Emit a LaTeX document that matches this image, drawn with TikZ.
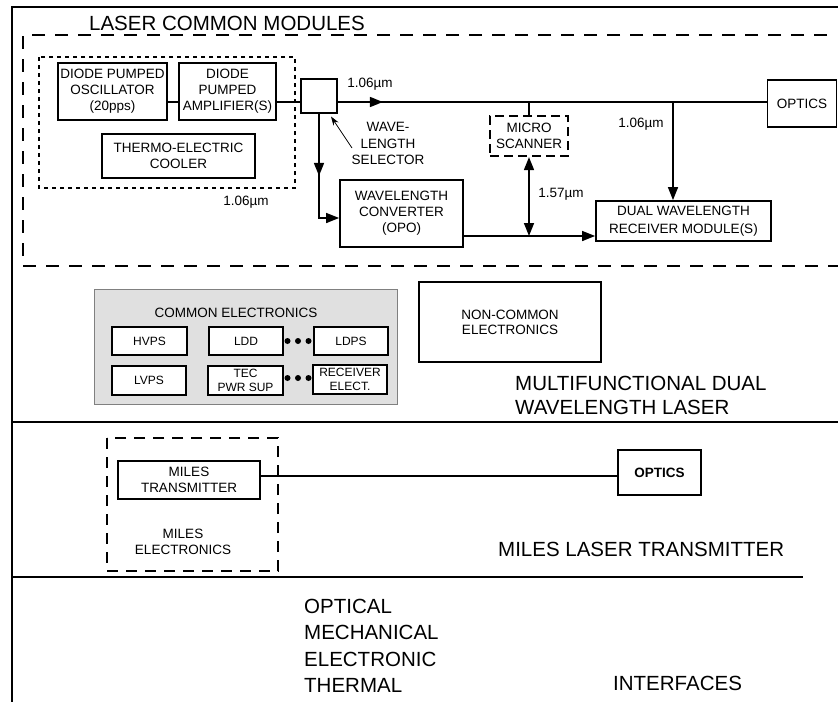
\documentclass[tikz,border=0pt]{standalone}
\usepackage{fontspec}
\setmainfont{Liberation Sans}
\usetikzlibrary{arrows.meta}
\newcommand\fsmall{\fontsize{13.5}{16}\selectfont}
\newcommand\fcell{\fontsize{12}{13.5}\selectfont}
\newcommand\fbig{\fontsize{20.5}{26}\selectfont}
\begin{document}
\begin{tikzpicture}[x=1pt,y=-1pt,
  box/.style={draw, line width=1.8pt, inner sep=0pt, align=center, font=\fsmall},
  cell/.style={draw, fill=white, line width=1.8pt, inner sep=0pt, align=center, font=\fcell},
  lbl/.style={inner sep=0pt, font=\fsmall, align=center},
  big/.style={inner sep=0pt, font=\fbig, align=left},
  conn/.style={line width=1.5pt},
  tip/.style={-{Triangle[length=13pt,width=10pt]}},
  dtip/.style={{Triangle[length=13pt,width=10pt]}-{Triangle[length=13pt,width=10pt]}},
  frame/.style={line width=2.5pt},
  bigdash/.style={line width=2pt, dash pattern=on 13pt off 10pt},
  finedash/.style={line width=2pt, dash pattern=on 4pt off 4pt},
  meddash/.style={line width=2.2pt, dash pattern=on 9pt off 5pt},
  milesdash/.style={line width=1.5pt, dash pattern=on 11pt off 8pt}]
\useasboundingbox (0,0) rectangle (838,702);

% frame
\draw[frame] (838,7) -- (12,7) -- (12,702);
\draw[frame] (12,422) -- (838,422);
\draw[frame] (12,577) -- (803,577);

\node[big, anchor=center] (title) at (227,23) {LASER COMMON MODULES};

% dashed laser module region
\draw[bigdash] (827,35) -- (23,35) -- (23,266) -- (838,266);
% dotted oscillator group
\draw[finedash] (39,57) rectangle (295,188);

\node[box, minimum width=109, minimum height=57] (osc) at (112.5,91.5) {DIODE PUMPED\\OSCILLATOR\\(20pps)};
\node[box, minimum width=97, minimum height=57] (amp) at (227.5,91.5) {DIODE\\PUMPED\\AMPLIFIER(S)};
\node[box, minimum width=153, minimum height=44] (tec) at (178.5,156) {THERMO-ELECTRIC\\COOLER};
\node[box, minimum width=36, minimum height=34] (sel) at (319,96) {};
\node[box, minimum width=69, minimum height=47] (opt1) at (802,103.5) {OPTICS};
\node[box, meddash, minimum width=78, minimum height=40] (ms) at (529,136) {MICRO\\SCANNER};
\node[box, minimum width=123, minimum height=67] (conv) at (401.5,213.5) {WAVELENGTH\\CONVERTER\\(OPO)};
\node[box, minimum width=175, minimum height=40, font=\fontsize{13.5}{17.5}\selectfont] (recv) at (683.5,221) {DUAL WAVELENGTH\\RECEIVER MODULE(S)};

\coordinate (ly) at (0,102);
\coordinate (cy) at (0,218);
\coordinate (oy) at (0,236);
\coordinate (rx) at (673,0);

\draw[conn] (osc.east |- ly) -- (amp.west |- ly);
\draw[conn] (amp.east |- ly) -- (sel.west |- ly);
\draw[conn] (sel.east |- ly) -- (opt1.west |- ly);
\draw[conn, tip] (sel.east |- ly) -- ++(45,0);
\draw[conn, tip] (sel.south) |- (conv.west |- cy);
\draw[conn, tip] (sel.south) -- ++(0,62);
\draw[conn] (ms.north |- ly) -- (ms.north);
\draw[conn, dtip] (ms.south) -- (ms.south |- oy);
\draw[conn, tip] (conv.east |- oy) -- (recv.west |- oy);
\draw[conn, tip] (rx |- ly) -- (rx |- recv.north);

\node[lbl] (l106a) at (370,84) {1.06µm};
\node[lbl] (l106b) at (246,202) {1.06µm};
\node[lbl] (l106c) at (641,124) {1.06µm};
\node[lbl] (l157) at (561,194) {1.57µm};
\node[lbl, font=\fontsize{13.5}{16.5}\selectfont] (sellbl) at (388,143.5) {WAVE-\\LENGTH\\SELECTOR};
\coordinate (sa) at (352,148);
\coordinate (sb) at (331,116.5);
\draw[line width=0.8pt, -{Stealth[length=9pt,width=6pt]}] (sa) -- (sb);

% electronics
\node[draw=gray, fill=black!12, line width=1pt, minimum width=303, minimum height=115, inner sep=0pt] (ce) at (245.5,346.5) {};
\node[lbl] (cetitle) at (236,313) {COMMON ELECTRONICS};
\node[cell, minimum width=75, minimum height=28] (hvps) at (149.5,341) {HVPS};
\node[cell, minimum width=74, minimum height=28] (ldd) at (246,341) {\raisebox{-3pt}{LDD}};
\node[cell, minimum width=74, minimum height=28] (ldps) at (351,341) {LDPS};
\node[cell, minimum width=74, minimum height=29] (lvps) at (149,380.5) {LVPS};
\node[cell, minimum width=75, minimum height=29] (tecp) at (245.5,380.5) {TEC\\PWR SUP};
\node[cell, minimum width=74, minimum height=29] (rcve) at (350,379.5) {RECEIVER\\ELECT.};
\foreach \xx in {287.5,298,308.5} {
  \fill (\xx,341) circle (3);
  \fill (\xx,378) circle (3);
}

\node[box, minimum width=182, minimum height=80, font=\fontsize{13.5}{15}\selectfont] (nce) at (510,322) {NON-COMMON\\ELECTRONICS};
\node[big, anchor=west] (mfl) at (515,383) {MULTIFUNCTIONAL DUAL};
\node[big, anchor=west] (mfl2) at (515,407) {WAVELENGTH LASER};

% MILES
\draw[milesdash] (107,438) rectangle (278,571);
\node[box, minimum width=142, minimum height=38] (mt) at (189,480) {MILES\\TRANSMITTER};
\node[box, minimum width=83, minimum height=45, font=\fsmall\bfseries] (opt2) at (659.5,472.5) {OPTICS};
\coordinate (my) at (0,476);
\draw[conn] (mt.east |- my) -- (opt2.west |- my);
\node[lbl] (mel) at (183,541.5) {MILES\\ELECTRONICS};
\node[big, anchor=west] (mlt) at (498,549) {MILES LASER TRANSMITTER};

% interfaces
\node[big, anchor=west] (i1) at (304,606) {OPTICAL};
\node[big, anchor=west] (i2) at (304,632) {MECHANICAL};
\node[big, anchor=west] (i3) at (304,659) {ELECTRONIC};
\node[big, anchor=west] (i4) at (304,685) {THERMAL};
\node[big, anchor=west] (ifc) at (613,683) {INTERFACES};
\end{tikzpicture}
\end{document}
